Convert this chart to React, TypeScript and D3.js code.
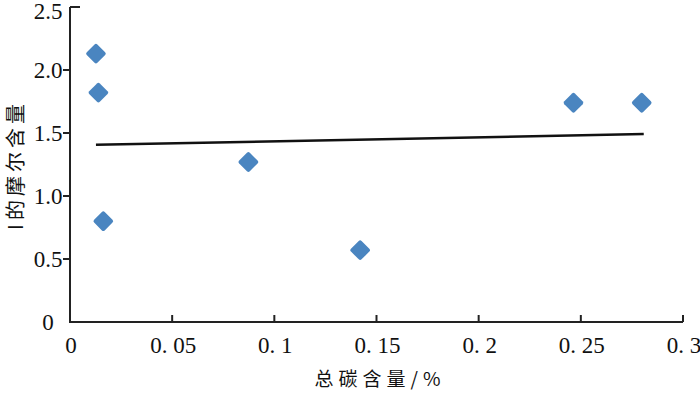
import React, { useEffect, useRef } from "react";
import * as d3 from "d3";

const width = 700,
  height = 393;

// 总碳含量 / %
const carbon = [0.0127, 0.0139, 0.0163, 0.0873, 0.142, 0.2464, 0.2798];
// I的摩尔含量
const iodine = [2.13, 1.82, 0.8, 1.27, 0.57, 1.74, 1.74];

const xTicks = [0, 0.05, 0.1, 0.15, 0.2, 0.25, 0.3];
const xTickLabels = ["0", "0. 05", "0. 1", "0. 15", "0. 2", "0. 25", "0. 3"];
const yTicks = [0, 0.5, 1, 1.5, 2, 2.5];
const yTickLabels = ["0", "0.5", "1.0", "1.5", "2.0", "2.5"];

const serif = "'Liberation Serif', 'Times New Roman', serif";
const cjk = "'Noto Sans CJK SC', 'Liberation Serif', serif";

export default function App() {
  const ref = useRef<SVGSVGElement>(null);

  useEffect(() => {
    const svg = d3.select(ref.current);
    svg.selectAll("*").remove();

    const x = d3.scaleLinear().domain([0, 0.3]).range([70, 683]);
    const y = d3.scaleLinear().domain([0, 2.5]).range([322, 7]);

    // 坐标轴
    const axes = svg.append("g").attr("stroke", "#222").attr("stroke-width", 2).attr("fill", "none");
    axes.append("path").attr("d", `M${x(0)},${y(2.5)}V${y(0)}H${x(0.3)}`);
    axes
      .selectAll("line.xt")
      .data(xTicks.slice(1))
      .join("line")
      .attr("x1", d => x(d))
      .attr("x2", d => x(d))
      .attr("y1", y(0))
      .attr("y2", y(0) - 7);
    axes
      .selectAll("line.yt")
      .data(yTicks.slice(1))
      .join("line")
      .attr("x1", d => (d === 2.5 ? x(0) + 10 : x(0) - 7))
      .attr("x2", x(0))
      .attr("y1", d => y(d))
      .attr("y2", d => y(d));

    // 刻度标签
    svg
      .append("g")
      .attr("font-family", serif)
      .attr("font-size", 23)
      .attr("text-anchor", "middle")
      .attr("fill", "#111")
      .selectAll("text")
      .data(xTicks)
      .join("text")
      .attr("x", d => x(d) + 1)
      .attr("y", 353)
      .attr("xml:space", "preserve")
      .text((d, i) => xTickLabels[i]);

    svg
      .append("g")
      .attr("font-family", serif)
      .attr("font-size", 23)
      .attr("text-anchor", "middle")
      .attr("fill", "#111")
      .selectAll("text")
      .data(yTicks)
      .join("text")
      .attr("x", 48)
      .attr("y", d => Math.max(y(d), 11) + 8)
      .text((d, i) => yTickLabels[i]);

    // 轴标题
    svg
      .append("text")
      .attr("font-family", cjk)
      .attr("font-size", 19)
      .attr("letter-spacing", 5)
      .attr("fill", "#111")
      .attr("text-anchor", "middle")
      .attr("x", 380)
      .attr("y", 386)
      .text("总碳含量/%");

    svg
      .append("text")
      .attr("font-family", cjk)
      .attr("font-size", 20)
      .attr("letter-spacing", 4)
      .attr("fill", "#111")
      .attr("text-anchor", "middle")
      .attr("transform", `translate(23,165) rotate(-90)`)
      .text("I的摩尔含量");

    // 线性拟合
    const pts = carbon.map((c, i) => [c, iodine[i]] as [number, number]);
    const mx = d3.mean(carbon)!;
    const my = d3.mean(iodine)!;
    const slope =
      d3.sum(pts, p => (p[0] - mx) * (p[1] - my)) / d3.sum(pts, p => (p[0] - mx) ** 2);
    const icpt = my - slope * mx;
    const [x0, x1] = d3.extent(carbon) as [number, number];
    svg
      .append("line")
      .attr("x1", x(x0))
      .attr("x2", x(x1) + 2)
      .attr("y1", y(icpt + slope * x0))
      .attr("y2", y(icpt + slope * x1))
      .attr("stroke", "#111")
      .attr("stroke-width", 2.5);

    // 散点
    svg
      .append("g")
      .attr("fill", "#4a85c0")
      .selectAll("rect")
      .data(pts)
      .join("rect")
      .attr("x", -7.5)
      .attr("y", -7.5)
      .attr("width", 15)
      .attr("height", 15)
      .attr("rx", 2)
      .attr("transform", d => `translate(${x(d[0])},${y(d[1])}) rotate(45)`);
  }, []);

  return (
    <svg
      ref={ref}
      width={width}
      height={height}
      style={{ position: "absolute", left: 0, top: 0, background: "#fff" }}
    />
  );
}
